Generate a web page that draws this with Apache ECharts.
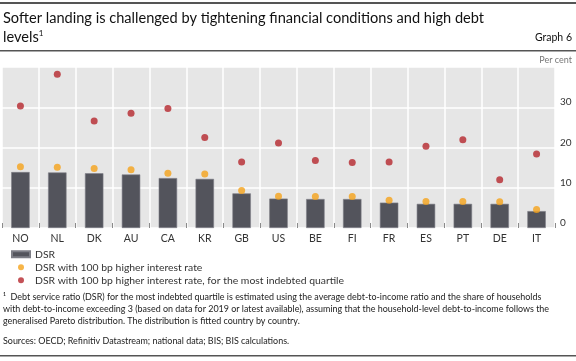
<!DOCTYPE html>
<html><head><meta charset="utf-8">
<script src="https://cdn.jsdelivr.net/npm/echarts@6/dist/echarts.min.js"></script>
<style>html,body{margin:0;padding:0;background:#fff}#c{width:576px;height:361px}</style>
</head><body><div id="c"></div>
<script>
const categories = ['NO','NL','DK','AU','CA','KR','GB','US','BE','FI','FR','ES','PT','DE','IT'];
const dsr = [13.9,13.8,13.6,13.3,12.4,12.2,8.6,7.3,7.2,7.2,6.3,6.0,6.0,6.0,4.2];
const dsrHigher = [15.2,15.1,14.8,14.5,13.6,13.4,9.3,7.9,7.8,7.8,6.9,6.6,6.6,6.5,4.6];
const dsrQuartile = [30.3,38.2,26.6,28.5,29.7,22.5,16.4,21.1,16.8,16.3,16.4,20.3,21.9,12.0,18.4];
const yTicks = [0,10,20,30,40];
const seriesNames = ['DSR','DSR with 100 bp higher interest rate','DSR with 100 bp higher interest rate, for the most indebted quartile'];

const FONT = 'Lato';
const chart = echarts.init(document.getElementById('c'), null, {renderer:'canvas'});
const foot = [
 '\u00B9  Debt service ratio (DSR) for the most indebted quartile is estimated using the average debt-to-income ratio and the share of households',
 'with debt-to-income exceeding 3 (based on data for 2019 or latest available), assuming that the household-level debt-to-income follows the',
 'generalised Pareto distribution. The distribution is fitted country by country.'
];
chart.setOption({
  animation:false,
  textStyle:{fontFamily:FONT},
  grid:{left:2, right:21, top:67, bottom:133, show:true, backgroundColor:'#e6e6e6', borderWidth:0},
  xAxis:{type:'category', data:categories, boundaryGap:true,
    axisLine:{show:false},
    axisTick:{show:true, inside:true, length:5, lineStyle:{color:'#8a8a8a'}},
    splitLine:{show:true, lineStyle:{color:'#ffffff', width:1.5}},
    axisLabel:{color:'#333', fontSize:10.5, margin:5, fontFamily:FONT}},
  yAxis:{type:'value', position:'right', min:yTicks[0], max:yTicks[yTicks.length-1], interval:10,
    axisLine:{show:false}, axisTick:{show:false},
    splitLine:{show:true, lineStyle:{color:'#ffffff', width:1.5}},
    axisLabel:{color:'#333', fontSize:10, margin:5, verticalAlign:'bottom', fontFamily:FONT,
      formatter:v=> v===40 ? '' : String(v)}},
  legend:{orient:'vertical', left:11, top:248, padding:0, itemWidth:18, itemHeight:6, itemGap:0.5,
    textStyle:{fontSize:10.4, color:'#333', lineHeight:12.5, fontFamily:FONT},
    data:[{name:seriesNames[0], icon:'rect'},{name:seriesNames[1], icon:'circle'},{name:seriesNames[2], icon:'circle'}]},
  series:[
    {name:seriesNames[0], type:'bar', data:dsr, barWidth:'50%', itemStyle:{color:'#53545c', borderColor:'#7d7e86', borderWidth:0.6}},
    {name:seriesNames[1], type:'scatter', data:dsrHigher, symbolSize:7, itemStyle:{color:'#f5a31a'}},
    {name:seriesNames[2], type:'scatter', data:dsrQuartile, symbolSize:7, itemStyle:{color:'#b5272d'}}
  ],
  graphic:[
    {type:'rect', shape:{x:0,y:2,width:576,height:2}, style:{fill:'#555'}},
    {type:'text', left:3, top:11, style:{text:'Softer landing is challenged by tightening financial conditions and high debt', fontSize:14.6, fill:'#111', fontFamily:FONT}},
    {type:'text', left:3, top:29, style:{text:'levels{s|1}', fontSize:14.6, fill:'#111', fontFamily:FONT, rich:{s:{fontSize:8, verticalAlign:'top', padding:[0,0,8,0], fontFamily:FONT}}}},
    {type:'text', right:4, top:32, style:{text:'Graph 6', fontSize:10.5, fill:'#111', fontFamily:FONT}},
    {type:'rect', shape:{x:0,y:50,width:576,height:1.5}, style:{fill:'#555'}},
    {type:'text', right:4, top:56, style:{text:'Per cent', fontSize:9, fill:'#777', fontFamily:FONT}},
    {type:'text', left:3, top:291, style:{text:foot.join('\n'), fontSize:8.95, lineHeight:12, fill:'#222', fontFamily:FONT}},
    {type:'text', left:3, top:337, style:{text:'Sources: OECD; Refinitiv Datastream; national data; BIS; BIS calculations.', fontSize:8.95, fill:'#222', fontFamily:FONT}},
    {type:'rect', shape:{x:0,y:355,width:576,height:1.5}, style:{fill:'#555'}}
  ]
});
</script></body></html>
